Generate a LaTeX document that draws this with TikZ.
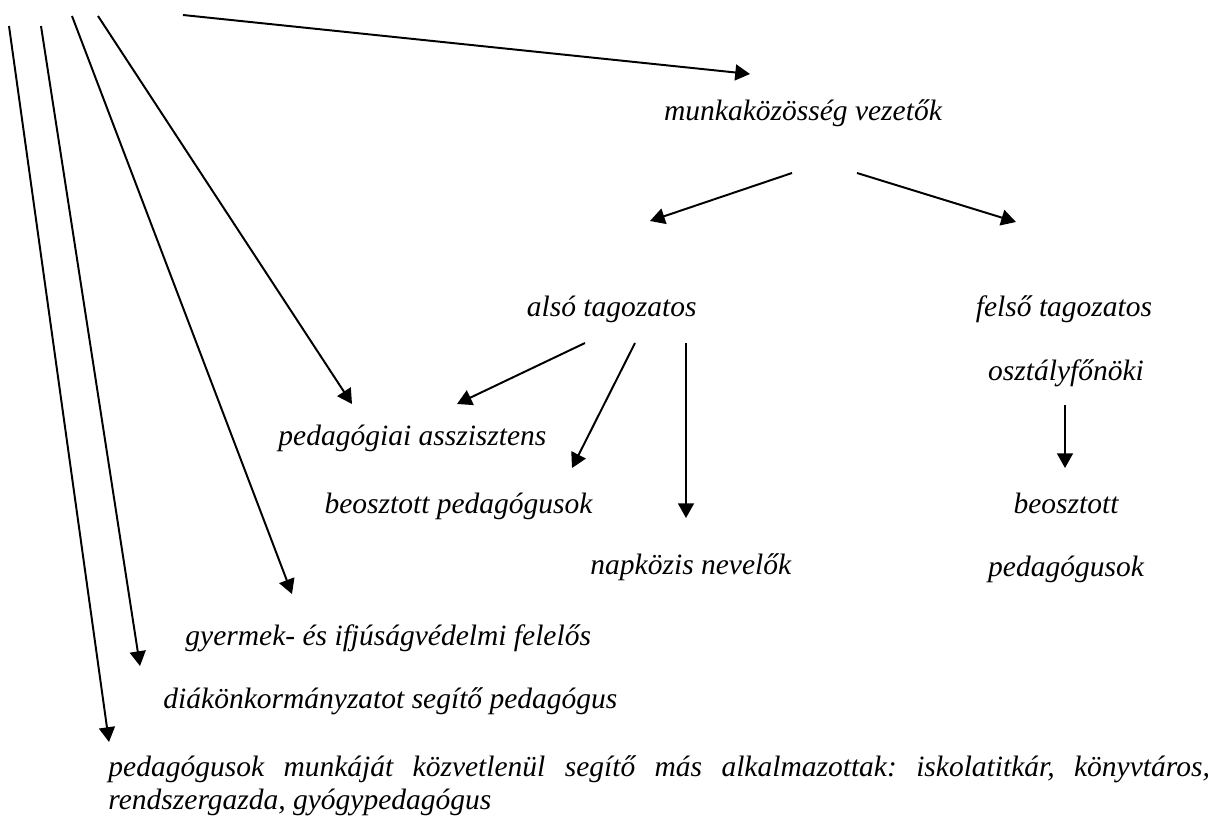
\documentclass[tikz,border=0pt]{standalone}
\usepackage{fontspec}
\setmainfont{Liberation Serif}[ItalicFont={Liberation Serif Italic}]
\usetikzlibrary{arrows.meta}
\frenchspacing

\begin{document}
\begin{tikzpicture}[x=0.4068pt, y=-0.4068pt,
  lbl/.style={inner sep=0pt, font=\fontsize{12pt}{13.4pt}\selectfont\itshape},
  arr/.style={line width=0.8pt, -{Triangle[length=6pt,width=6.5pt]}}]
\useasboundingbox (0,0) rectangle (1220,822);
% labels
\node[lbl, anchor=base] (munk) at (803,120) {munkaközösség vezetők};
\node[lbl, anchor=base east] (also) at (697,316) {alsó tagozatos};
\node[lbl, anchor=base] (felso) at (1064,316) {felső tagozatos};
\node[lbl, anchor=base] (ofo) at (1066,380) {osztályfőnöki};
\node[lbl, anchor=base] (beo2) at (1066,513) {beosztott};
\node[lbl, anchor=base] (ped2) at (1066,576) {pedagógusok};
\node[lbl, anchor=base west] (asszist) at (278,445) {pedagógiai asszisztens};
\node[lbl, anchor=base east] (beo1) at (593,513) {beosztott pedagógusok};
\node[lbl, anchor=base west] (napk) at (590,574) {napközis nevelők};
\node[lbl, anchor=base west] (gyv) at (185,645) {gyermek- és ifjúságvédelmi felelős};
\node[lbl, anchor=base west] (dok) at (163,708) {diákönkormányzatot segítő pedagógus};
\node[lbl, anchor=base west, text width=448pt, align=justify] (egyeb) at (108,776)
  {\baselineskip=13.6pt pedagógusok munkáját közvetlenül segítő más alkalmazottak: iskolatitkár, könyvtáros,\linebreak
   rendszergazda, gyógypedagógus\par};
% arrow ends
\coordinate (t0) at (183,15);  \coordinate (t1) at (750,74);
\coordinate (m0) at (792,173); \coordinate (m1) at (650,221);
\coordinate (m2) at (857,173); \coordinate (m3) at (1016,222);
\coordinate (a0) at (585,343); \coordinate (a1) at (457,404);
\coordinate (a2) at (635,343); \coordinate (a3) at (572,468);
\coordinate (a4) at (686,343); \coordinate (a5) at (686,518);
\coordinate (f0) at (1065,405); \coordinate (f1) at (1065,468);
\coordinate (l1) at (9,26);  \coordinate (l1e) at (109,742);
\coordinate (l2) at (41,26); \coordinate (l2e) at (140,666);
\coordinate (l3) at (72,16); \coordinate (l3e) at (292,594);
\coordinate (l4) at (98,16); \coordinate (l4e) at (352,404);
% arrows
\draw[arr] (t0) -- (t1);
\draw[arr] (m0) -- (m1);
\draw[arr] (m2) -- (m3);
\draw[arr] (a0) -- (a1);
\draw[arr] (a2) -- (a3);
\draw[arr] (a4) -- (a5);
\draw[arr] (f0) -- (f1);
\draw[arr] (l1) -- (l1e);
\draw[arr] (l2) -- (l2e);
\draw[arr] (l3) -- (l3e);
\draw[arr] (l4) -- (l4e);
\end{tikzpicture}
\end{document}
